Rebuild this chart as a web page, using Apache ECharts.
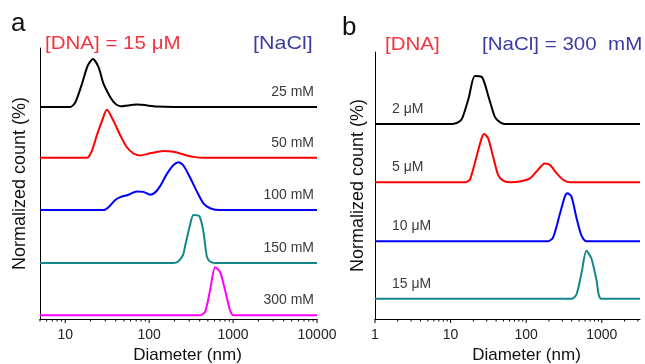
<!DOCTYPE html>
<html><head><meta charset="utf-8">
<script src="https://cdn.jsdelivr.net/npm/echarts@6/dist/echarts.min.js"></script>
<style>html,body{margin:0;padding:0;background:#fff}#c{width:645px;height:364px}</style>
</head><body><div id="c"></div>
<script>
// ---------- Data (Diameter nm, normalized count %) ----------
const namesA = ['25 mM', '50 mM', '100 mM', '150 mM', '300 mM'];
const colorsA = ['#000000', '#ff0000', '#0000ff', '#13888a', '#ff00ff'];
const offsetsA = [442, 336, 227, 117, 8];
const a25 = [[5,0],[11.5,0],[13.2,10],[15.8,48],[18.5,86],[21.4,100],[24.9,83],[28.6,48],[34.3,21],[39.4,7],[45.2,1.5],[71,5],[123,1],[200,0],[10000,0]];
const a50 = [[5,0],[18.1,0],[20.8,15],[23.8,47],[27.4,77],[31.3,100],[37.6,77],[45.2,47],[54.2,22],[65,9],[78,5],[103,9.5],[148,14],[195,12.5],[256,7],[337,2],[443,0],[10000,0]];
const a100 = [[5,0],[28.6,0],[32.8,6],[39.4,21],[45.2,27],[56.8,32],[71,39],[85.5,38],[103,32],[118,37],[135,50],[162,75],[195,94],[223,100],[256,93],[307,68],[370,39],[443,14],[532,4],[700,0],[10000,0]];
const a150 = [[5,0],[193,0],[221,3],[254,17],[268,35],[307,79],[337,100],[397,97],[443,65],[486,14],[532,3],[611,0],[10000,0]];
const a300 = [[5,0],[404,0],[464,7],[532,52],[611,100],[700,90],[803,52],[921,10],[1008,0],[10000,0]];
const seriesA = [a25, a50, a100, a150, a300];

const namesB = ['2 μM', '5 μM', '10 μM', '15 μM'];
const colorsB = ['#000000', '#ff0000', '#0000ff', '#13888a'];
const offsetsB = [406, 285, 162, 42];
const b2 = [[1,0],[10.7,0],[13.3,6],[14.5,15],[17.4,55],[20.9,100],[25.9,98],[32,55],[38.5,15],[44.8,4],[52,0],[3200,0]];
const b5 = [[1,0],[15.5,0],[18,5],[22,53],[25.7,91],[27.8,100],[31.4,91],[36.5,53],[42.5,15],[49.5,3],[60.7,0],[82,1.5],[112,8],[137,22],[176,39],[205,36],[251,19],[307,5],[377,0],[3200,0]];
const b10 = [[1,0],[195,0],[227,8],[278,56],[324,93],[351,100],[397,93],[462,49],[538,12],[626,0],[3200,0]];
const b15 = [[1,0],[397,0],[462,9],[538,53],[626,100],[729,84],[849,40],[988,0],[3200,0]];
const seriesB = [b2, b5, b10, b15];

const xRangeA = [5, 10000];
const xRangeB = [1, 3200];
const yMaxA = 565, yMaxB = 556;
const tickLabelsA = ['10', '100', '1000', '10000'];
const tickLabelsB = ['1', '10', '100', '1000'];

// ---------- helpers ----------
const FONT = '"Liberation Sans", Arial, sans-serif';
function tickValues(range) {
  const major = [], minor = [];
  for (let e = -1; e <= 5; e++) {
    for (let k = 1; k <= 9; k++) {
      const v = k * Math.pow(10, e);
      if (v < range[0] - 1e-9 || v > range[1] + 1e-9) continue;
      (k === 1 ? major : minor).push([v, 0]);
    }
  }
  return { major, minor };
}
function tickSeries(idx, data, len) {
  return {
    type: 'custom', xAxisIndex: idx, yAxisIndex: idx, silent: true, clip: false,
    data: data, encode: { x: 0, y: 1 },
    renderItem: function (params, api) {
      const p = api.coord([api.value(0), 0]);
      return { type: 'line', shape: { x1: p[0], y1: p[1], x2: p[0], y2: p[1] + len },
               style: { stroke: '#000', lineWidth: 1 } };
    }
  };
}
function xAxisDef(idx, range, labels, padLeft) {
  return {
    type: 'log', logBase: 10, gridIndex: idx, min: range[0], max: range[1],
    name: 'Diameter (nm)', nameLocation: 'middle', nameGap: 24,
    nameTextStyle: { fontSize: 17, color: '#111', fontFamily: FONT, padding: [0, 0, 0, padLeft] },
    axisLine: { lineStyle: { color: '#000', width: 1 } },
    axisTick: { show: false }, splitLine: { show: false }, minorTick: { show: false },
    axisLabel: {
      margin: 9, fontSize: 14, color: '#222', fontFamily: FONT, hideOverlap: false,
      formatter: function (v) {
        const s = String(Math.round(v));
        return labels.indexOf(s) >= 0 && Math.abs(v - Math.round(v)) < 1e-6 ? s : '';
      }
    }
  };
}
function yAxisDef(idx, max, gap) {
  return {
    type: 'value', gridIndex: idx, min: 0, max: max,
    name: 'Normalized count (%)', nameLocation: 'middle', nameGap: gap,
    nameTextStyle: { fontSize: 18, color: '#111', fontFamily: FONT },
    axisLine: { show: true, lineStyle: { color: '#000', width: 1 } },
    axisTick: { show: false }, axisLabel: { show: false }, splitLine: { show: false }
  };
}
function lineSeries(idx, data, offset, color, name, labelAt, align, dx) {
  return {
    type: 'line', xAxisIndex: idx, yAxisIndex: idx, name: name,
    data: data.map(d => [d[0], d[1] + offset]),
    showSymbol: false, symbol: 'none', smooth: 0.25,
    lineStyle: { color: color, width: 2 }, silent: true, animation: false,
    markPoint: {
      symbol: 'circle', symbolSize: 0, silent: true, animation: false,
      data: [{ coord: [labelAt, offset], value: 0 }],
      label: {
        show: true, position: [0, 0], formatter: name, align: align, verticalAlign: 'middle',
        offset: [dx, -15], fontSize: 14, color: '#3a3a3a', fontFamily: FONT
      }
    }
  };
}

const series = [];
seriesA.forEach((d, i) => series.push(lineSeries(0, d, offsetsA[i], colorsA[i], namesA[i], xRangeA[1], 'right', -3)));
seriesB.forEach((d, i) => series.push(lineSeries(1, d, offsetsB[i], colorsB[i], namesB[i], xRangeB[0], 'left', 17)));
const tA = tickValues(xRangeA), tB = tickValues(xRangeB);
series.push(tickSeries(0, tA.major, 4), tickSeries(0, tA.minor, 2.5));
series.push(tickSeries(1, tB.major, 4), tickSeries(1, tB.minor, 2.5));

const txt = (x, y, text, size, color, sx) => ({
  type: 'text', x: x, y: y, silent: true, scaleX: sx || 1,
  style: { text: text, font: size + 'px ' + FONT, fill: color, textAlign: 'left', textVerticalAlign: 'middle' }
});

const option = {
  backgroundColor: '#fff',
  animation: false,
  grid: [
    { left: 40, right: 328, top: 48, bottom: 45, containLabel: false, outerBoundsMode: 'none' },
    { left: 375, right: 5, top: 52, bottom: 45, containLabel: false, outerBoundsMode: 'none' }
  ],
  xAxis: [xAxisDef(0, xRangeA, tickLabelsA, 18), xAxisDef(1, xRangeB, tickLabelsB, 38)],
  yAxis: [yAxisDef(0, yMaxA, 11), yAxisDef(1, yMaxB, 8)],
  series: series,
  graphic: [
    txt(11, 24, 'a', 26, '#111'),
    txt(342, 28, 'b', 26, '#111'),
    txt(45, 44, '[DNA] = 15 μM', 19, '#f5333f', 1.08),
    txt(253, 44, '[NaCl]', 19, '#3b3ba3', 1.13),
    txt(385, 45, '[DNA]', 19, '#f5333f', 1.08),
    txt(482, 45, '[NaCl] = 300  mM', 19, '#3b3ba3', 1.08)
  ]
};
const chart = echarts.init(document.getElementById('c'), null, { renderer: 'canvas' });
chart.setOption(option);
</script></body></html>
